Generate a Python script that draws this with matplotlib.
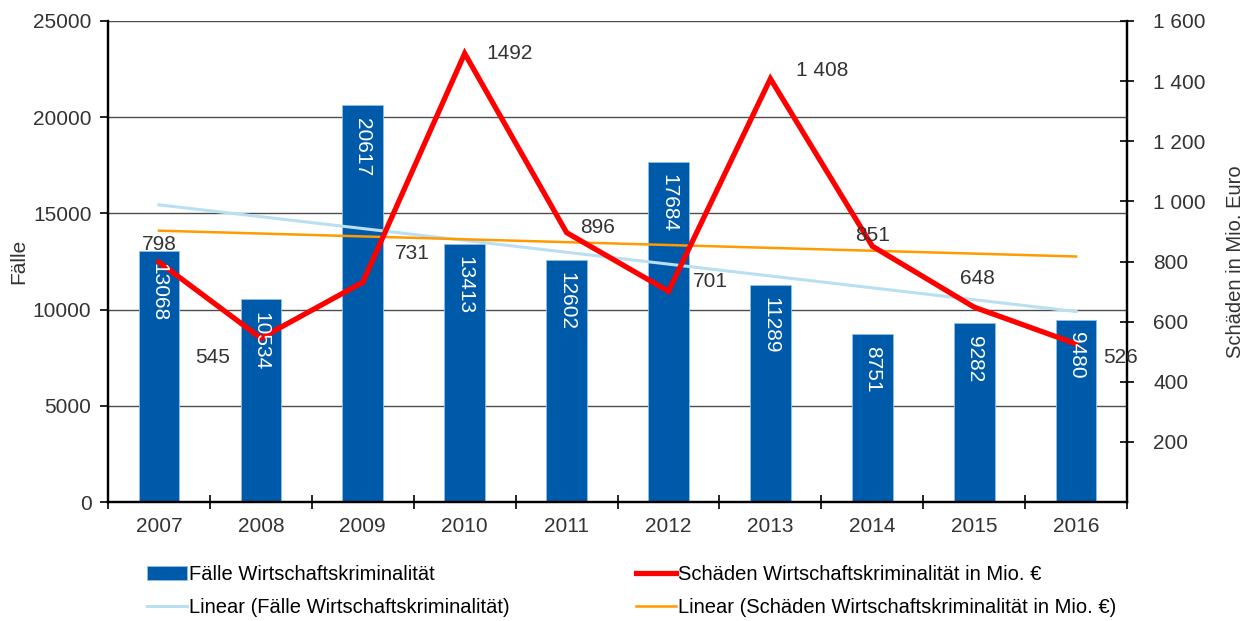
import numpy as np
import matplotlib.pyplot as plt

plt.rcParams['font.family'] = ['Liberation Sans', 'DejaVu Sans']

years = ['2007', '2008', '2009', '2010', '2011', '2012', '2013', '2014', '2015', '2016']
faelle = [13068, 10534, 20617, 13413, 12602, 17684, 11289, 8751, 9282, 9480]
schaeden = [798, 545, 731, 1492, 896, 701, 1408, 851, 648, 526]
schaeden_labels = ['798', '545', '731', '1492', '896', '701', '1 408', '851', '648', '526']
left_ticks = [0, 5000, 10000, 15000, 20000, 25000]
right_ticks = [200, 400, 600, 800, 1000, 1200, 1400, 1600]
right_tick_labels = ['200', '400', '600', '800', '1 000', '1 200', '1 400', '1 600']

# offsets (points) of the damage labels relative to their points
label_offsets = [(0, 13), (-35, -14), (36, 21), (32, 0), (22, 4),
                 (30, 7), (37, 6), (0, 8), (2, 21), (32, -10)]

x = np.arange(len(years))

fig = plt.figure(figsize=(12.52, 6.21), dpi=100)
ax = fig.add_axes([0.0863, 0.1916, 0.8139, 0.7746])
ax2 = ax.twinx()

ax.set_zorder(1)
ax2.set_zorder(2)
ax2.patch.set_visible(False)

# grid lines and bars
for t in left_ticks[1:]:
    ax.axhline(t, color='#4d4d4d', lw=1.0, zorder=0)
bars = ax.bar(x, faelle, width=0.4, color='#005AAA', edgecolor='#8ec0e6',
              lw=0.6, zorder=2, label='Fälle Wirtschaftskriminalität')

# linear trends
c1 = np.polyfit(x, faelle, 1)
trend1, = ax.plot(x, np.polyval(c1, x), color='#b9dff0', lw=2.2, zorder=3,
                  label='Linear (Fälle Wirtschaftskriminalität)')
c2 = np.polyfit(x, schaeden, 1)
trend2, = ax2.plot(x, np.polyval(c2, x), color='#ff9a00', lw=1.8, zorder=3,
                   label='Linear (Schäden Wirtschaftskriminalität in Mio. €)')

red, = ax2.plot(x, schaeden, color='#ff0000', lw=3.8, zorder=4,
                solid_joinstyle='miter',
                label='Schäden Wirtschaftskriminalität in Mio. €')

for xi, v, lab, off in zip(x, schaeden, schaeden_labels, label_offsets):
    ax2.annotate(lab, (xi, v), xytext=off, textcoords='offset points',
                 ha='center', va='center', fontsize=15, color='#333333', zorder=6)

# bar value labels (on top of everything)
for xi, v in zip(x, faelle):
    ax2.annotate(str(v), (xi, v * 1600 / 25000), xytext=(0, -9),
                 textcoords='offset points', ha='center', va='top',
                 rotation=270, fontsize=15, color='white', zorder=7)

ax.set_xlim(-0.5, 9.5)
ax.set_ylim(0, 25000)
ax2.set_ylim(0, 1600)

ax.set_xticks(x)
ax.set_xticklabels(years)
ax.set_xticks(np.arange(-0.5, 10, 1), minor=True)
ax.tick_params(axis='x', which='major', length=0, labelsize=15,
               labelcolor='#333333', pad=11)
ax.tick_params(axis='x', which='minor', direction='inout', length=10, width=1.2)
ax.set_yticks(left_ticks)
ax.tick_params(axis='y', direction='out', length=6, width=1.2, labelsize=15,
               labelcolor='#333333', pad=6)

ax2.set_yticks(right_ticks)
ax2.set_yticklabels(right_tick_labels)
ax2.tick_params(axis='y', direction='inout', length=10, width=1.2, labelsize=15,
                labelcolor='#333333', pad=14)

for a in (ax, ax2):
    a.spines['top'].set_visible(False)
    for s in ('left', 'right', 'bottom'):
        a.spines[s].set_linewidth(1.6)
        a.spines[s].set_color('black')

ax.set_ylabel('Fälle', fontsize=15, color='#333333', labelpad=3)
ax2.set_ylabel('Schäden in Mio. Euro', fontsize=14.5, color='#333333', labelpad=14)

fig.legend(handles=[bars, trend1, red, trend2], loc='upper left',
           bbox_to_anchor=(0.1174, 0.0905), ncol=2, frameon=False,
           fontsize=14.5, handlelength=2.0, handletextpad=0.1,
           columnspacing=6.25, labelspacing=0.7, borderpad=0, borderaxespad=0)

fig.savefig('out.png', dpi=100)
